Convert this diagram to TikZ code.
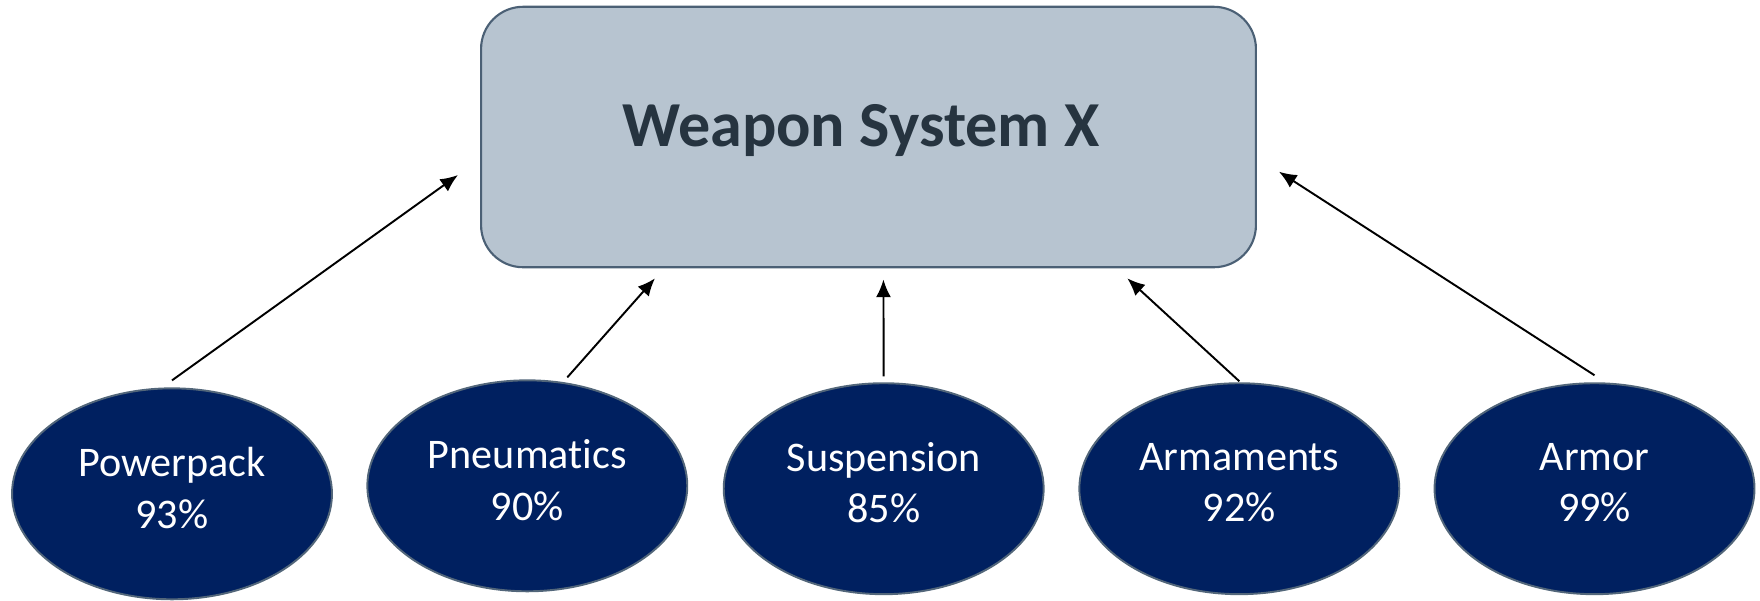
\documentclass[tikz,border=0pt]{standalone}
\usepackage{fontspec}
\setmainfont{Carlito}[Ligatures=NoCommon]
\usetikzlibrary{shapes.geometric,arrows.meta,calc}
\definecolor{boxfill}{HTML}{B7C4D0}
\definecolor{boxline}{HTML}{4B6075}
\definecolor{titleink}{HTML}{263440}
\definecolor{navy}{HTML}{002060}
\definecolor{rimline}{HTML}{52667A}

\tikzset{
  sysbox/.style={draw=boxline,line width=1.2pt,fill=boxfill,rectangle,rounded corners=0.84cm,
    minimum width=15.5cm,minimum height=5.21cm,inner sep=0pt},
  systitle/.style={text=titleink,font=\fontsize{36.5}{40}\selectfont\bfseries,inner sep=0pt},
  part/.style={draw=rimline,line width=1.1pt,fill=navy,ellipse,text=white,align=center,
    minimum width=6.4cm,minimum height=4.22cm,inner sep=0pt,text depth=7pt,
    font=\fontsize{24}{29.4}\selectfont},
  link/.style={-{Latex[length=10pt,width=8.5pt]},line width=1.1pt,black}
}

\begin{document}
\begin{tikzpicture}[x=0.02cm,y=-0.02cm]
\useasboundingbox (0,0) rectangle (1760,600);

% system box
\node[sysbox] (sys) at (868.5,137) {};
\node[systitle,anchor=base] (title) at (861,146.7) {Weapon System X};

% subsystems
\node[part] (pp) at (172,493.8) {Powerpack\\93\%};
\node[part] (pn) at (527.3,485.8) {Pneumatics\\90\%};
\node[part] (su) at (883.7,488.7) {Suspension\\85\%};
\node[part] (ar) at (1239.3,488.7) {Armaments\\92\%};
\node[part] (am) at (1594.5,488.7) {Armor\\99\%};

% arrow tips
\coordinate (t1) at (458,175);
\coordinate (t2) at (655,278.3);
\coordinate (t3) at (883.4,279.5);
\coordinate (t4) at (1127.3,278.3);
\coordinate (t5) at (1279,171.7);

\draw[link] ($(pp.north)+(0,-7)$) -- (t1);
\draw[link] ($(pn.north)+(40,-2)$) -- (t2);
\draw[link] ($(su.north)+(0,-6)$) -- (t3);
\draw[link] ($(ar.north)+(0,-1)$) -- (t4);
\draw[link] ($(am.north)+(0,-7)$) -- (t5);
\end{tikzpicture}
\end{document}
